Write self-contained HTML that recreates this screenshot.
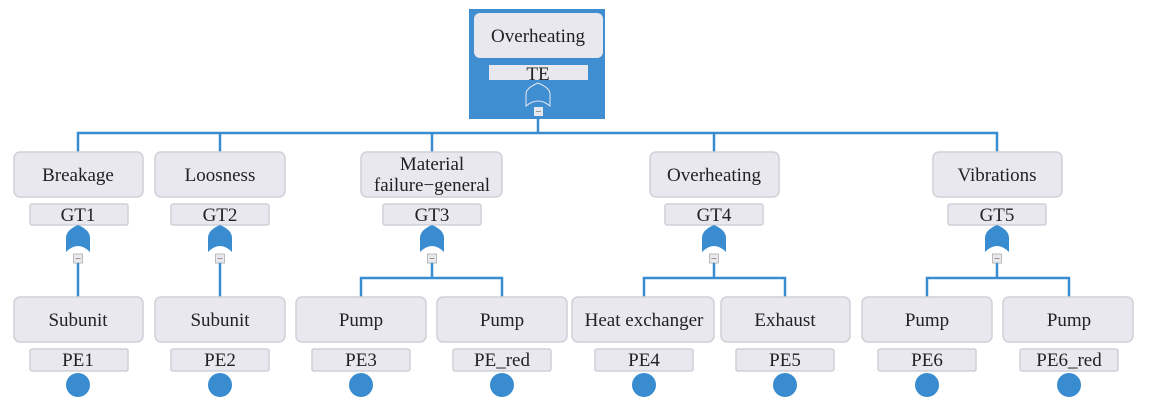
<!DOCTYPE html>
<html><head><meta charset="utf-8"><style>
body{margin:0;background:#fff;}
svg{display:block;font-family:"Liberation Serif",serif;}
.b{fill:#e8e8ee;stroke:#cfd0d8;stroke-width:1.5;}
.t{font-size:19px;fill:#222;text-anchor:middle;}
.l{stroke:#3a8cd0;stroke-width:2.5;fill:none;}
.g{fill:#3a8cd0;}
.m{fill:#e8e8ee;stroke:#bbb;stroke-width:1;}
</style></head><body>
<svg width="1150" height="407" viewBox="0 0 1150 407">
<defs>
<g id="gate"><path class="g" d="M-12,24 L-12,10 Q-12,2 0,-3 Q12,2 12,10 L12,24 Q6,18 0,18 Q-6,18 -12,24Z"/>
<rect class="m" x="-4.5" y="26" width="9" height="9"/><line x1="-2.5" y1="30.5" x2="2.5" y2="30.5" stroke="#999"/></g>
</defs>
<!-- top -->
<rect x="469" y="9" width="136" height="110" fill="#3f8ed2"/>
<rect class="b" x="474" y="13" width="129" height="45" rx="6" style="stroke:none"/>
<text class="t" x="538" y="42">Overheating</text>
<rect class="b" x="489" y="65" width="99" height="15" style="stroke:none"/>
<text class="t" x="538" y="80">TE</text>
<path d="M526,106 L526,94 Q526,88 538,83 Q550,88 550,94 L550,106 Q544,101 538,101 Q532,101 526,106Z" fill="none" stroke="#e8e8ee" stroke-width="1"/>
<rect x="534" y="107" width="9" height="9" fill="#e8e8ee"/><line x1="536" y1="111.5" x2="541" y2="111.5" stroke="#999"/>
<path class="l" d="M538,117 V133 M78,152 V133 H997 V152 M220,133 V152 M432,133 V152 M714,133 V152"/>
<!-- level2 -->
<g>
<rect class="b" x="14" y="152" width="129" height="45" rx="6"/><text class="t" x="78" y="181">Breakage</text>
<rect class="b" x="155" y="152" width="130" height="45" rx="6"/><text class="t" x="220" y="181">Loosness</text>
<rect class="b" x="361" y="152" width="141" height="45" rx="6"/><text class="t" x="432" y="170">Material</text><text class="t" x="432" y="191">failure−general</text>
<rect class="b" x="650" y="152" width="129" height="45" rx="6"/><text class="t" x="714" y="181">Overheating</text>
<rect class="b" x="933" y="152" width="129" height="45" rx="6"/><text class="t" x="997" y="181">Vibrations</text>
</g>
<g>
<rect class="b" x="30" y="204" width="98" height="21" rx="2"/><text class="t" x="78" y="221">GT1</text>
<rect class="b" x="171" y="204" width="98" height="21" rx="2"/><text class="t" x="220" y="221">GT2</text>
<rect class="b" x="383" y="204" width="98" height="21" rx="2"/><text class="t" x="432" y="221">GT3</text>
<rect class="b" x="665" y="204" width="98" height="21" rx="2"/><text class="t" x="714" y="221">GT4</text>
<rect class="b" x="948" y="204" width="98" height="21" rx="2"/><text class="t" x="997" y="221">GT5</text>
</g>
<use href="#gate" x="78" y="228"/><use href="#gate" x="220" y="228"/><use href="#gate" x="432" y="228"/><use href="#gate" x="714" y="228"/><use href="#gate" x="997" y="228"/>
<path class="l" d="M78,263 V297 M220,263 V297 M432,263 V278 M361,297 V278 H502 V297 M714,263 V278 M644,297 V278 H785 V297 M997,263 V278 M927,297 V278 H1069 V297"/>
<!-- leaves -->
<g>
<rect class="b" x="14" y="297" width="129" height="45" rx="6"/><text class="t" x="78" y="326">Subunit</text>
<rect class="b" x="155" y="297" width="130" height="45" rx="6"/><text class="t" x="220" y="326">Subunit</text>
<rect class="b" x="296" y="297" width="130" height="45" rx="6"/><text class="t" x="361" y="326">Pump</text>
<rect class="b" x="437" y="297" width="130" height="45" rx="6"/><text class="t" x="502" y="326">Pump</text>
<rect class="b" x="572" y="297" width="142" height="45" rx="6"/><text class="t" x="644" y="326">Heat exchanger</text>
<rect class="b" x="721" y="297" width="129" height="45" rx="6"/><text class="t" x="785" y="326">Exhaust</text>
<rect class="b" x="862" y="297" width="130" height="45" rx="6"/><text class="t" x="927" y="326">Pump</text>
<rect class="b" x="1003" y="297" width="130" height="45" rx="6"/><text class="t" x="1069" y="326">Pump</text>
</g>
<g>
<rect class="b" x="30" y="349" width="98" height="22" rx="2"/><text class="t" x="78" y="366">PE1</text>
<rect class="b" x="171" y="349" width="98" height="22" rx="2"/><text class="t" x="220" y="366">PE2</text>
<rect class="b" x="312" y="349" width="98" height="22" rx="2"/><text class="t" x="361" y="366">PE3</text>
<rect class="b" x="453" y="349" width="98" height="22" rx="2"/><text class="t" x="502" y="366">PE_red</text>
<rect class="b" x="595" y="349" width="98" height="22" rx="2"/><text class="t" x="644" y="366">PE4</text>
<rect class="b" x="736" y="349" width="98" height="22" rx="2"/><text class="t" x="785" y="366">PE5</text>
<rect class="b" x="878" y="349" width="98" height="22" rx="2"/><text class="t" x="927" y="366">PE6</text>
<rect class="b" x="1020" y="349" width="98" height="22" rx="2"/><text class="t" x="1069" y="366">PE6_red</text>
</g>
<g class="g">
<circle cx="78" cy="385" r="12"/><circle cx="220" cy="385" r="12"/><circle cx="361" cy="385" r="12"/><circle cx="502" cy="385" r="12"/>
<circle cx="644" cy="385" r="12"/><circle cx="785" cy="385" r="12"/><circle cx="927" cy="385" r="12"/><circle cx="1069" cy="385" r="12"/>
</g>
</svg>
</body></html>
